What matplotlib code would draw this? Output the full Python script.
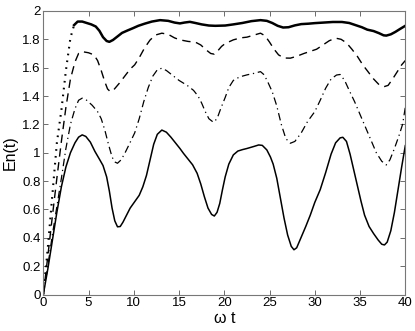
import matplotlib
matplotlib.use("Agg")
import matplotlib.pyplot as plt
import numpy as np

plt.rcParams['font.family'] = ['Liberation Sans', 'DejaVu Sans']

# Top curve (thick; dotted during initial rise)
t1 = [0, 0.5, 1, 1.5, 2, 2.5, 3, 3.4, 3.8, 4.3, 4.8, 5.3, 5.8, 6.2, 6.6, 7.0, 7.3, 7.7,
      8.2, 8.7, 9.3, 9.9, 10.5, 11.2, 12, 12.9, 13.8, 14.5, 15.1, 15.6, 16.2, 16.8, 17.5,
      18.3, 19, 20.1, 21, 22, 23, 24, 24.7, 25.3, 25.9, 26.5, 27.1, 27.8, 28.5, 29.3, 30,
      31, 32, 33, 33.8, 34.5, 35.2, 35.8, 36.5, 37.1, 37.6, 37.9, 38.4, 38.9, 39.4, 40]
e1 = [0, 0.33, 0.7, 1.07, 1.3, 1.58, 1.81, 1.9, 1.925, 1.925, 1.915, 1.905, 1.89, 1.86,
      1.815, 1.788, 1.782, 1.795, 1.82, 1.845, 1.862, 1.878, 1.895, 1.91, 1.925, 1.935,
      1.93, 1.918, 1.912, 1.918, 1.923, 1.915, 1.905, 1.897, 1.895, 1.897, 1.905, 1.915,
      1.928, 1.935, 1.93, 1.915, 1.895, 1.883, 1.885, 1.898, 1.907, 1.91, 1.914, 1.918,
      1.922, 1.922, 1.915, 1.9, 1.885, 1.868, 1.858, 1.843, 1.828, 1.826, 1.835, 1.852,
      1.872, 1.895]

# Dashed curve
t2 = [0, 0.5, 1, 1.5, 2, 2.5, 3, 3.5, 3.9, 4.3, 5, 5.6, 6, 6.4, 6.8, 7.1, 7.4, 7.8, 8.4,
      9, 9.6, 10.1, 10.6, 11.2, 11.8, 12.4, 13.1, 13.8, 14.5, 15.1, 16, 16.8, 17.4, 18,
      18.5, 18.9, 19.3, 19.7, 20.1, 21, 21.8, 22.5, 23.3, 24, 24.5, 25, 25.5, 26, 26.6,
      27.3, 28, 28.8, 29.5, 30.2, 30.9, 31.6, 32.3, 32.9, 33.5, 34.1, 34.7, 35.3, 35.9,
      36.5, 37.1, 37.7, 38.1, 38.6, 39.2, 39.6, 40]
e2 = [0, 0.27, 0.55, 0.82, 1.08, 1.32, 1.52, 1.64, 1.70, 1.713, 1.705, 1.69, 1.65, 1.58,
      1.5, 1.45, 1.431, 1.445, 1.49, 1.54, 1.59, 1.62, 1.67, 1.74, 1.795, 1.83, 1.843,
      1.835, 1.81, 1.796, 1.785, 1.78, 1.76, 1.725, 1.7, 1.695, 1.72, 1.75, 1.77, 1.796,
      1.81, 1.815, 1.83, 1.843, 1.825, 1.78, 1.73, 1.69, 1.668, 1.667, 1.68, 1.7, 1.715,
      1.73, 1.76, 1.79, 1.808, 1.8, 1.775, 1.73, 1.68, 1.62, 1.57, 1.52, 1.48, 1.467,
      1.475, 1.52, 1.58, 1.62, 1.65]

# Dash-dot curve
t3 = [0, 0.5, 1, 1.5, 2, 2.5, 3, 3.5, 3.9, 4.3, 4.8, 5.4, 6, 6.4, 6.8, 7.2, 7.6, 7.9,
      8.2, 8.6, 9, 9.5, 10.1, 10.6, 11.1, 11.6, 12.1, 12.6, 13.1, 13.6, 14.2, 15, 15.9,
      16.6, 17.1, 17.5, 17.9, 18.3, 18.8, 19.2, 19.6, 20.1, 20.5, 21, 21.7, 22.5, 23.3,
      24, 24.4, 24.8, 25.3, 25.8, 26.3, 26.8, 27.3, 27.8, 28.5, 29.2, 30, 30.6, 31.2,
      31.8, 32.4, 32.8, 33.3, 33.8, 34.4, 35, 35.6, 36.2, 36.8, 37.4, 37.9, 38.3, 38.8,
      39.3, 39.7, 40]
e3 = [0, 0.2, 0.42, 0.62, 0.82, 1.03, 1.2, 1.31, 1.37, 1.385, 1.37, 1.335, 1.29, 1.24,
      1.16, 1.06, 0.97, 0.935, 0.926, 0.95, 0.995, 1.06, 1.14, 1.24, 1.36, 1.46, 1.54,
      1.585, 1.596, 1.58, 1.55, 1.51, 1.475, 1.44, 1.4, 1.35, 1.29, 1.24, 1.215, 1.24,
      1.31, 1.39, 1.46, 1.51, 1.535, 1.549, 1.56, 1.572, 1.55, 1.5, 1.43, 1.33, 1.2, 1.1,
      1.067, 1.08, 1.14, 1.22, 1.29, 1.37, 1.455, 1.52, 1.548, 1.552, 1.51, 1.44, 1.36,
      1.27, 1.18, 1.09, 1.0, 0.94, 0.914, 0.95, 1.03, 1.12, 1.2, 1.32]

# Thin solid curve
t4 = [0, 0.5, 1, 1.5, 2, 2.5, 3, 3.5, 3.9, 4.3, 4.7, 5.2, 5.7, 6.2, 6.6, 7.0, 7.3, 7.6,
      7.9, 8.2, 8.5, 8.8, 9.2, 9.6, 10.1, 10.6, 11, 11.4, 11.8, 12.2, 12.6, 13.1, 13.6,
      14.1, 14.6, 15.1, 15.5, 16, 16.5, 17, 17.4, 17.8, 18.2, 18.6, 18.9, 19.2, 19.5,
      19.8, 20.1, 20.5, 21, 21.5, 22, 22.5, 23.3, 23.8, 24.2, 24.7, 25.1, 25.4, 25.8,
      26.2, 26.6, 27, 27.4, 27.7, 28, 28.4, 29, 29.5, 30, 30.6, 31.2, 31.8, 32.3, 32.8,
      33.1, 33.5, 33.9, 34.3, 34.7, 35.1, 35.5, 36, 36.5, 37, 37.4, 37.7, 38, 38.4, 38.8,
      39.2, 39.6, 40]
e4 = [0, 0.18, 0.38, 0.58, 0.76, 0.9, 1.0, 1.07, 1.11, 1.126, 1.115, 1.075, 1.01, 0.955,
      0.91, 0.83, 0.73, 0.61, 0.52, 0.478, 0.48, 0.51, 0.56, 0.61, 0.655, 0.7, 0.76, 0.84,
      0.95, 1.06, 1.13, 1.16, 1.145, 1.11, 1.07, 1.03, 0.995, 0.955, 0.915, 0.855, 0.78,
      0.69, 0.61, 0.565, 0.554, 0.58, 0.643, 0.74, 0.83, 0.92, 0.985, 1.012, 1.022, 1.03,
      1.045, 1.055, 1.052, 1.02, 0.97, 0.92, 0.82, 0.68, 0.54, 0.42, 0.34, 0.316, 0.33,
      0.39, 0.48, 0.56, 0.65, 0.74, 0.86, 0.99, 1.07, 1.105, 1.109, 1.08, 0.99, 0.88,
      0.77, 0.66, 0.56, 0.48, 0.43, 0.385, 0.355, 0.35, 0.37, 0.45, 0.58, 0.74, 0.9, 1.05]

xticks = [0, 5, 10, 15, 20, 25, 30, 35, 40]
yticks = [0, 0.2, 0.4, 0.6, 0.8, 1.0, 1.2, 1.4, 1.6, 1.8, 2.0]
ytick_labels = ['0', '0.2', '0.4', '0.6', '0.8', '1', '1.2', '1.4', '1.6', '1.8', '2']

fig = plt.figure(figsize=(4.15, 3.31), dpi=100)
ax = fig.add_axes([0.1043, 0.110, 0.8723, 0.857])

t1a = np.array(t1); e1a = np.array(e1)
split = 7  # index of t=3.4, end of the dotted rise
ax.plot(t1a[:split + 1], e1a[:split + 1], color='black', lw=1.5, linestyle=(0, (0.8, 2.5)))
ax.plot(t1a[split:], e1a[split:], color='black', lw=1.8, linestyle='-')
ax.plot(t2, e2, color='black', lw=1.0, linestyle=(0, (6, 4)))
ax.plot(t3, e3, color='black', lw=0.9, linestyle=(0, (6, 3, 1, 3)))
ax.plot(t4, e4, color='black', lw=1.1, linestyle='-')

ax.set_xlim(0, 40)
ax.set_ylim(0, 2)
ax.set_xticks(xticks)
ax.set_yticks(yticks)
ax.set_yticklabels(ytick_labels)
ax.tick_params(direction='in', top=True, right=True, length=3.5, width=0.6,
               labelsize=9.5, color='#555555', pad=2)
for s in ax.spines.values():
    s.set_color('#777777')
    s.set_linewidth(0.8)

ax.set_xlabel('ω t', fontsize=11.5, labelpad=1)
ax.set_ylabel('En(t)', fontsize=11.5, labelpad=3)

fig.savefig('out.png', dpi=100)
